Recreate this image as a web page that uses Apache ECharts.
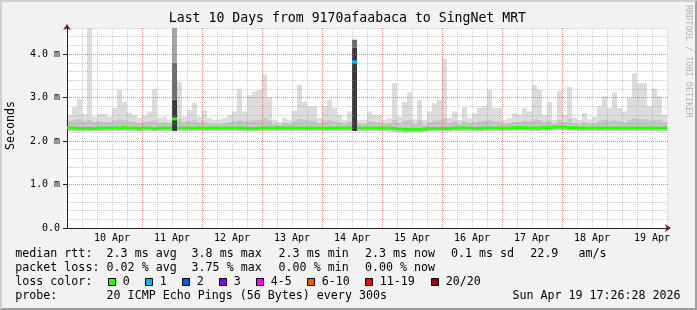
<!DOCTYPE html>
<html><head><meta charset="utf-8">
<script src="https://cdn.jsdelivr.net/npm/echarts@6/dist/echarts.min.js"></script>
<style>
html,body{margin:0;padding:0;background:#f2f2f2;}
#wrap{position:relative;width:697px;height:310px;overflow:hidden;}
#chart{position:absolute;left:0;top:0;width:697px;height:310px;}
#frame{position:absolute;left:0;top:0;width:697px;height:310px;box-sizing:border-box;border-top:2px solid #cfcfcf;border-left:2px solid #cfcfcf;border-right:2px solid #9e9e9e;border-bottom:2px solid #9e9e9e;pointer-events:none;}
</style></head><body>
<div id="wrap"><div id="chart"></div><div id="frame"></div></div>
<script>
// ---------------- data ----------------
const titleText = 'Last 10 Days from 9170afaabaca to SingNet MRT';
const yAxisTitle = 'Seconds';
const watermark = 'RRDTOOL / TOBI OETIKER';
// time axis in hours relative to 10 Apr 00:00
const startHour = -6;
const endHour = 234.4;
const stepHours = 2;
const dayTicks = [0, 24, 48, 72, 96, 120, 144, 168, 192, 216];
const xLabelHours = [12, 36, 60, 84, 108, 132, 156, 180, 204, 228];
const xTickLabels = ['10 Apr', '11 Apr', '12 Apr', '13 Apr', '14 Apr', '15 Apr', '16 Apr', '17 Apr', '18 Apr', '19 Apr'];
const yTickValues = [0, 1, 2, 3, 4];
const yTickLabels = ['0.0', '1.0 m', '2.0 m', '3.0 m', '4.0 m'];
const yMax = 4.6;

// smoke (ms), one value per 2-hour step
const smokeMax = [
  2.60,2.78,2.97,2.62,4.60,2.56,2.62,2.62,2.56,2.76, 3.18,2.90,2.65,2.60,2.53,2.58,2.68,3.20,2.53,2.56,
  2.49,4.60,3.37,2.56,2.72,2.87,2.56,2.70,2.53,2.49, 2.50,2.53,2.60,2.68,3.20,2.68,3.06,3.14,3.18,3.53,
  3.00,2.49,2.44,2.53,2.49,2.70,3.29,2.90,2.80,2.80, 2.53,2.80,2.95,2.76,2.60,2.49,2.68,4.33,2.49,2.49,
  2.68,2.60,2.60,2.49,2.53,3.33,2.56,2.90,3.12,2.50, 2.95,2.49,2.68,2.87,2.95,3.89,2.53,2.68,2.49,2.78,
  2.53,2.64,2.76,2.80,3.18,2.76,2.76,2.49,2.53,2.64, 2.60,2.76,2.68,3.29,3.18,2.60,2.90,2.49,3.16,2.60,
  3.24,2.53,2.49,2.64,2.50,2.56,2.80,3.03,2.76,3.12, 2.76,2.68,2.99,3.56,3.33,3.33,2.80,3.20,3.03,2.60
];
const smokeMid = [
  2.48,2.50,2.52,2.46,2.50,2.44,2.46,2.45,2.44,2.48, 2.52,2.50,2.46,2.45,2.42,2.44,2.46,2.48,2.42,2.44,
  2.42,4.60,2.52,2.44,2.48,2.50,2.44,2.46,2.42,2.40, 2.40,2.42,2.44,2.46,2.50,2.46,2.48,2.50,2.50,2.54,
  2.48,2.40,2.38,2.42,2.40,2.46,2.52,2.50,2.48,2.48, 2.42,2.48,2.50,2.46,2.44,2.40,2.46,4.33,2.40,2.40,
  2.46,2.44,2.44,2.40,2.42,2.50,2.42,2.48,2.50,2.40, 2.50,2.38,2.44,2.48,2.50,2.54,2.42,2.46,2.40,2.46,
  2.42,2.44,2.46,2.48,2.50,2.46,2.46,2.40,2.42,2.44, 2.44,2.48,2.46,2.52,2.50,2.44,2.48,2.40,2.50,2.44,
  2.52,2.42,2.40,2.44,2.40,2.42,2.48,2.50,2.46,2.50, 2.46,2.44,2.50,2.54,2.52,2.52,2.48,2.50,2.50,2.44
];
const smokeLow = [
  2.23,2.23,2.22,2.22,2.22,2.23,2.23,2.23,2.23,2.23, 2.23,2.23,2.23,2.23,2.22,2.23,2.23,2.22,2.23,2.23,
  2.23,2.23,2.23,2.23,2.23,2.23,2.23,2.23,2.23,2.23, 2.23,2.23,2.23,2.23,2.23,2.23,2.22,2.22,2.23,2.23,
  2.23,2.23,2.23,2.23,2.23,2.23,2.23,2.23,2.23,2.23, 2.23,2.23,2.23,2.23,2.23,2.23,2.23,2.23,2.23,2.23,
  2.23,2.23,2.23,2.23,2.22,2.21,2.20,2.20,2.20,2.20, 2.20,2.21,2.22,2.22,2.22,2.22,2.22,2.23,2.23,2.23,
  2.23,2.22,2.22,2.23,2.23,2.23,2.23,2.23,2.23,2.24, 2.24,2.24,2.23,2.23,2.23,2.24,2.24,2.25,2.25,2.25,
  2.24,2.24,2.23,2.23,2.23,2.23,2.23,2.23,2.23,2.23, 2.23,2.23,2.23,2.23,2.23,2.23,2.23,2.23,2.23,2.23
];
const medianRtt = [
  2.30,2.30,2.29,2.29,2.29,2.29,2.30,2.30,2.30,2.30, 2.30,2.31,2.30,2.30,2.29,2.30,2.30,2.29,2.30,2.30,
  2.30,2.51,2.30,2.30,2.30,2.30,2.30,2.30,2.30,2.30, 2.30,2.30,2.30,2.30,2.30,2.30,2.29,2.29,2.30,2.30,
  2.30,2.30,2.30,2.30,2.30,2.30,2.30,2.30,2.30,2.30, 2.30,2.30,2.30,2.30,2.30,2.30,2.30,3.82,2.30,2.30,
  2.30,2.30,2.30,2.30,2.30,2.29,2.28,2.27,2.27,2.27, 2.27,2.28,2.29,2.29,2.29,2.29,2.29,2.30,2.30,2.30,
  2.30,2.29,2.29,2.30,2.30,2.30,2.30,2.30,2.30,2.31, 2.31,2.31,2.30,2.30,2.30,2.31,2.31,2.32,2.32,2.32,
  2.31,2.31,2.30,2.30,2.30,2.30,2.30,2.30,2.30,2.30, 2.30,2.30,2.30,2.30,2.30,2.30,2.30,2.30,2.30,2.30
];
// spikes with dense high pings
const spikeSteps = [21, 57];
const spikeDarkTop = [2.95, 4.15];
const spikeGreyTop = [3.80, 4.33];
// steps with loss (index into loss colour table)
const lossSteps = [57];
const lossLevels = [1];

const lossLabels = ['0', '1', '2', '3', '4-5', '6-10', '11-19', '20/20'];
const lossColors = ['#26ff00', '#00b8ff', '#0059ff', '#7e00ff', '#ff00ff', '#ff5500', '#ff0000', '#a10000'];

const rttLabel = 'median rtt:';
const rttStats = ['2.3 ms avg', '3.8 ms max', '2.3 ms min', '2.3 ms now', '0.1 ms sd', '22.9', 'am/s'];
const lossLabel = 'packet loss:';
const lossStats = ['0.02 % avg', '3.75 % max', '0.00 % min', '0.00 % now'];
const colorLabel = 'loss color:';
const probeLabel = 'probe:';
const probeText = '20 ICMP Echo Pings (56 Bytes) every 300s';
const stampText = 'Sun Apr 19 17:26:28 2026';

// ---------------- build ----------------
const rows = smokeMax.map(function (mx, k) {
  const si = spikeSteps.indexOf(k);
  const li = lossSteps.indexOf(k);
  return [startHour + k * stepHours, startHour + (k + 1) * stepHours,
    smokeLow[k], smokeMid[k], mx,
    si >= 0 ? spikeDarkTop[si] : 0, si >= 0 ? spikeGreyTop[si] : 0,
    medianRtt[k], li >= 0 ? lossLevels[li] : 0];
});

const MONO = '"DejaVu Sans Mono", "Liberation Mono", monospace';

function renderSmoke(params, api) {
  const x0 = api.value(0), x1 = api.value(1);
  const low = api.value(2), mid = api.value(3), top = api.value(4);
  const dark = api.value(5), grey = api.value(6);
  const children = [];
  function band(a, b, color) {
    if (!(b > a)) return;
    const p0 = api.coord([x0, b]);
    const p1 = api.coord([x1, a]);
    children.push({ type: 'rect', shape: { x: p0[0], y: p0[1], width: p1[0] - p0[0], height: p1[1] - p0[1] }, style: { fill: color } });
  }
  if (dark > 0) {
    band(low, dark, '#3a3a3a');
    band(dark, grey, '#6c6c6c');
    band(grey, mid, '#a6a6a6');
    band(mid, top, '#dcdcdc');
  } else {
    band(low, mid, '#c6c6c6');
    band(mid, top, '#dcdcdc');
  }
  return { type: 'group', children: children };
}

function renderMedian(params, api) {
  const p0 = api.coord([api.value(0), api.value(7)]);
  const p1 = api.coord([api.value(1), api.value(7)]);
  return { type: 'line', shape: { x1: p0[0], y1: p0[1], x2: p1[0], y2: p1[1] },
    style: { stroke: lossColors[api.value(8)], lineWidth: 3, lineCap: 'butt' } };
}

const gridGrey = 'rgba(143,143,143,0.45)';
const gridRed = 'rgba(222,79,79,0.5)';
const off = { show: false };

function baseX(extra) {
  return Object.assign({ type: 'value', gridIndex: 0, min: startHour, max: endHour, position: 'bottom',
    axisLine: { show: false, onZero: false }, axisTick: off, axisLabel: off, splitLine: off }, extra);
}
function baseY(extra) {
  return Object.assign({ type: 'value', gridIndex: 0, min: 0, max: yMax, position: 'left',
    axisLine: { show: false, onZero: false }, axisTick: off, axisLabel: off, splitLine: off }, extra);
}

// legend graphics
const g = [];
function txt(s, x, y, opt) {
  g.push(Object.assign({ type: 'text', x: x, y: y, silent: true,
    style: Object.assign({ text: s, font: '11.65px ' + MONO, fill: '#000', textAlign: 'left', textVerticalAlign: 'middle' }, opt || {}) }));
}
txt(titleText, 347.4, 19, { font: '13.2px ' + MONO, textAlign: 'center' });
g.push({ type: 'text', x: 10.5, y: 125.5, rotation: Math.PI / 2, silent: true,
  style: { text: yAxisTitle, font: '11.65px ' + MONO, fill: '#000', textAlign: 'center', textVerticalAlign: 'middle' } });
g.push({ type: 'text', x: 688.3, y: 5, rotation: -Math.PI / 2, silent: true,
  style: { text: watermark, font: '8.5px ' + MONO, fill: '#b4b4b4', textAlign: 'left', textVerticalAlign: 'middle' } });

const colX = [15.3, 106.6, 191.6, 278.6, 365.0, 451.0, 530.3, 578.6];
const rowY = [254.4, 268.4, 282.3, 296.0];
txt(rttLabel, colX[0], rowY[0]);
rttStats.forEach(function (s, i) { txt(s, colX[i + 1], rowY[0]); });
txt(lossLabel, colX[0], rowY[1]);
lossStats.forEach(function (s, i) { txt(s, colX[i + 1], rowY[1]); });
txt(colorLabel, colX[0], rowY[2]);
const boxX = [108.5, 145.5, 182.5, 219.5, 256.5, 307.5, 365.5, 431.5];
lossLabels.forEach(function (s, i) {
  g.push({ type: 'rect', silent: true, shape: { x: boxX[i], y: 278.5, width: 7, height: 7 },
    style: { fill: lossColors[i], stroke: '#000', lineWidth: 1 } });
  txt(s, boxX[i] + 14.2, rowY[2]);
});
txt(probeLabel, colX[0], rowY[3]);
txt(probeText, colX[1], rowY[3]);
txt(stampText, 680.6, rowY[3], { textAlign: 'right' });

const axisBlack = '#1f1f1f';
const arrowRed = '#801f1f';

const option = {
  animation: false,
  backgroundColor: '#f2f2f2',
  grid: { left: 67, right: 29, top: 28, bottom: 82, show: true, backgroundColor: '#ffffff', borderWidth: 0 },
  xAxis: [
    baseX({ interval: 6, z: 3, splitLine: { show: true, showMinLine: false, showMaxLine: false, lineStyle: { color: gridGrey, width: 1, type: [1, 1] } } }),
    baseX({ z: 4,
      axisTick: { show: false, customValues: dayTicks },
      splitLine: { show: true, showMinLine: false, showMaxLine: false, lineStyle: { color: gridRed, width: 1, type: [1, 1] } },
      axisLabel: { show: true, customValues: xLabelHours, margin: 5, fontFamily: MONO, fontSize: 10, color: '#000',
        formatter: function (v) { const i = xLabelHours.indexOf(v); return i >= 0 ? xTickLabels[i] : ''; } } }),
    baseX({ z: 5, axisLine: { show: true, onZero: false, lineStyle: { color: arrowRed, width: 1 }, symbol: ['none', 'arrow'], symbolSize: [6, 6], symbolOffset: [0, 3] } }),
    baseX({ z: 6, axisLine: { show: true, onZero: false, lineStyle: { color: axisBlack, width: 1 } } })
  ],
  yAxis: [
    baseY({ interval: 0.2, z: 3, splitLine: { show: true, showMinLine: false, showMaxLine: true, lineStyle: { color: gridGrey, width: 1, type: [1, 1] } } }),
    baseY({ interval: 1, z: 4,
      splitLine: { show: true, showMinLine: false, showMaxLine: false, lineStyle: { color: gridRed, width: 1, type: [1, 1] } },
      axisTick: { show: true, length: 4, lineStyle: { color: axisBlack } },
      axisLabel: { show: true, margin: 7, fontFamily: MONO, fontSize: 10, color: '#000', showMaxLabel: false,
        formatter: function (v) { const i = yTickValues.indexOf(v); return i >= 0 ? yTickLabels[i] : ''; } } }),
    baseY({ z: 5, axisLine: { show: true, onZero: false, lineStyle: { color: arrowRed, width: 1 }, symbol: ['none', 'arrow'], symbolSize: [6, 6], symbolOffset: [0, 4] } }),
    baseY({ z: 6, axisLine: { show: true, onZero: false, lineStyle: { color: axisBlack, width: 1 } } })
  ],
  series: [
    { type: 'custom', name: 'smoke', xAxisIndex: 0, yAxisIndex: 0, z: 1, silent: true,
      renderItem: renderSmoke, data: rows, encode: { x: [0, 1], y: [2, 4] } },
    { type: 'custom', name: 'median', xAxisIndex: 0, yAxisIndex: 0, z: 10, silent: true,
      renderItem: renderMedian, data: rows, encode: { x: [0, 1], y: 7 } }
  ],
  graphic: g
};

const chart = echarts.init(document.getElementById('chart'), null, { renderer: 'canvas' });
chart.setOption(option);
</script>
</body></html>
